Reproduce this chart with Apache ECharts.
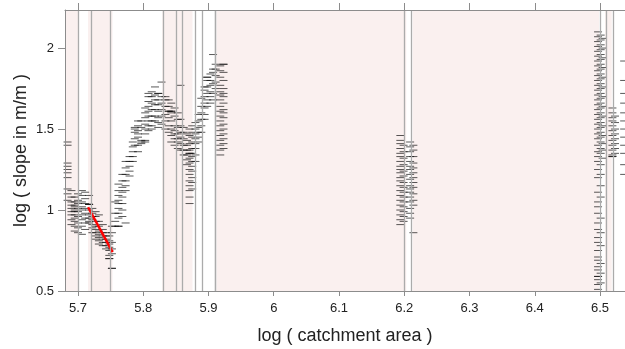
<!DOCTYPE html>
<html>
<head>
<meta charset="utf-8">
<script src="https://cdn.jsdelivr.net/npm/echarts@6/dist/echarts.min.js"></script>
<style>
html,body{margin:0;padding:0;background:#fff;}
#chart{width:625px;height:349px;}
</style>
</head>
<body>
<div id="chart"></div>
<script>
// ---- data ----
const xTicks = [5.7, 5.8, 5.9, 6.0, 6.1, 6.2, 6.3, 6.4, 6.5];
const yTicks = [0.5, 1, 1.5, 2];

// x position of each column of measurements (log catchment area)
const columnX = [
  5.684, 5.690, 5.695, 5.700, 5.706, 5.711,
  5.717, 5.722, 5.727, 5.732, 5.738, 5.743, 5.748, 5.752,
  5.757, 5.762, 5.768, 5.773, 5.779, 5.784, 5.787, 5.792, 5.797,
  5.803, 5.808, 5.813, 5.818, 5.823, 5.828,
  5.834, 5.839, 5.843, 5.848, 5.853, 5.857, 5.862, 5.867, 5.871,
  5.875, 5.880, 5.885, 5.889, 5.894, 5.898, 5.903, 5.907, 5.911,
  5.918, 5.923,
  6.194, 6.199, 6.209, 6.214,
  6.497, 6.501, 6.504,
  6.519, 6.523, 6.537
];
// log slope values per column
const columnY = [
  [1.42, 1.40, 1.29, 1.27, 1.25, 1.23, 1.20, 1.13, 1.10, 1.06],
  [1.12, 1.08, 1.05, 1.03, 1.01, 0.99, 0.97, 0.94, 0.91],
  [1.08, 1.05, 1.03, 1.02, 1.00, 0.99, 0.97, 0.95, 0.93, 0.90, 0.87],
  [1.10, 1.06, 1.04, 1.01, 0.99, 0.96, 0.92, 0.89, 0.86],
  [1.12, 1.09, 1.05, 1.02, 1.00, 0.97, 0.94, 0.90, 0.85],
  [1.11, 1.07, 1.04, 1.01, 0.98, 0.95, 0.92, 0.88],
  [1.09, 1.035, 1.035, 1.035, 1.00, 0.97, 0.95, 0.93, 0.92],
  [1.01, 0.98, 0.96, 0.94, 0.91, 0.89, 0.86],
  [0.99, 0.96, 0.93, 0.90, 0.88, 0.86, 0.84, 0.82],
  [0.97, 0.93, 0.90, 0.87, 0.85, 0.83, 0.81, 0.79],
  [0.91, 0.88, 0.86, 0.84, 0.82, 0.80, 0.78],
  [0.86, 0.84, 0.82, 0.80, 0.78, 0.76],
  [0.84, 0.81, 0.79, 0.77, 0.75, 0.72, 0.70, 0.70],
  [0.90, 0.86, 0.80, 0.76, 0.73, 0.64, 0.64],
  [1.05, 0.98, 0.93, 0.90],
  [1.16, 1.12, 1.09, 1.06, 1.04, 1.01, 0.98, 0.95, 0.90, 0.90],
  [1.22, 1.18, 1.14, 1.11, 1.08, 1.04, 1.00, 0.96],
  [1.30, 1.26, 1.22, 1.18, 1.15, 1.12, 0.92],
  [1.33, 1.30, 1.27, 1.24, 1.21],
  [1.42, 1.39, 1.36, 1.33, 1.30],
  [1.51, 1.50, 1.48, 1.44, 1.40],
  [1.55, 1.52, 1.49, 1.47, 1.45, 1.40, 1.36],
  [1.55, 1.51, 1.43, 1.42, 1.41],
  [1.63, 1.60, 1.57, 1.53, 1.50, 1.47, 1.43, 1.42],
  [1.72, 1.70, 1.67, 1.64, 1.61, 1.58, 1.55, 1.52, 1.49],
  [1.73, 1.70, 1.66, 1.62, 1.58, 1.55, 1.52, 1.50],
  [1.76, 1.71, 1.68, 1.65, 1.62, 1.58, 1.55],
  [1.72, 1.72, 1.68, 1.65, 1.61, 1.57, 1.54, 1.51],
  [1.79, 1.70, 1.66, 1.62, 1.58, 1.53],
  [1.70, 1.68, 1.64, 1.59, 1.55, 1.50],
  [1.68, 1.64, 1.61, 1.61, 1.57, 1.52, 1.48],
  [1.66, 1.61, 1.61, 1.60, 1.55, 1.50, 1.46, 1.42],
  [1.63, 1.58, 1.52, 1.49, 1.47, 1.44, 1.40],
  [1.60, 1.56, 1.51, 1.47, 1.44, 1.42, 1.38],
  [1.77, 1.56, 1.52, 1.48, 1.45, 1.41, 1.37],
  [1.51, 1.48, 1.44, 1.40, 1.37, 1.34],
  [1.47, 1.43, 1.40, 1.37, 1.34, 1.31, 1.28],
  [1.50, 1.46, 1.41, 1.37, 1.35, 1.35, 1.32, 1.29, 1.25, 1.22, 1.18, 1.15, 1.12, 1.08, 1.04],
  [1.52, 1.48, 1.45, 1.42, 1.38, 1.35, 1.33, 1.30, 1.27, 1.24, 1.20, 1.17, 1.13],
  [1.54, 1.50, 1.47, 1.44, 1.41, 1.38, 1.34, 1.30],
  [1.59, 1.55, 1.51, 1.48, 1.45, 1.42],
  [1.69, 1.64, 1.60, 1.56, 1.52, 1.48],
  [1.76, 1.74, 1.70, 1.66, 1.63, 1.59, 1.56],
  [1.82, 1.82, 1.80, 1.76, 1.72, 1.68, 1.64],
  [1.84, 1.80, 1.77, 1.73, 1.70, 1.66],
  [1.96, 1.87, 1.85, 1.78, 1.72, 1.68],
  [1.90, 1.87, 1.83, 1.79, 1.75],
  [1.89, 1.86, 1.82, 1.77, 1.73, 1.71, 1.68, 1.64, 1.61, 1.58, 1.55, 1.52, 1.49, 1.46, 1.43, 1.40, 1.37, 1.34],
  [1.90, 1.90, 1.85, 1.80, 1.75, 1.72, 1.70, 1.66, 1.62, 1.60, 1.57, 1.53, 1.50, 1.47, 1.44, 1.41, 1.38],
  [1.46, 1.43, 1.41, 1.38, 1.35, 1.33, 1.30, 1.27, 1.25, 1.23, 1.20, 1.18, 1.15, 1.12, 1.09, 1.06, 1.03, 1.00, 0.97, 0.94, 0.91],
  [1.40, 1.36, 1.32, 1.28, 1.24, 1.21, 1.17, 1.14, 1.11, 1.08, 1.05, 1.02, 0.99, 0.96, 0.93],
  [1.42, 1.39, 1.36, 1.33, 1.30, 1.27, 1.25, 1.22, 1.19, 1.15, 1.13, 1.11, 1.08, 1.05, 1.01, 0.98, 0.95],
  [1.40, 1.37, 1.33, 1.29, 1.26, 1.23, 1.20, 1.17, 1.14, 1.10, 1.06, 1.03, 0.86],
  [2.10, 2.07, 2.04, 2.01, 1.98, 1.95, 1.92, 1.89, 1.86, 1.83, 1.80, 1.77, 1.74, 1.71, 1.68, 1.65, 1.62, 1.59, 1.56, 1.53, 1.50, 1.47, 1.44, 1.40, 1.36, 1.33, 1.30, 1.25, 1.20, 1.11, 1.05, 1.02, 0.98, 0.92, 0.88, 0.83, 0.80, 0.75, 0.71, 0.69, 0.65, 0.63, 0.59, 0.59, 0.57, 0.54, 0.51],
  [2.08, 2.05, 2.02, 1.99, 1.96, 1.93, 1.90, 1.87, 1.84, 1.81, 1.78, 1.75, 1.72, 1.69, 1.66, 1.63, 1.60, 1.57, 1.54, 1.51, 1.48, 1.45, 1.42, 1.38, 1.35, 1.28, 1.22, 1.15, 1.08, 0.95, 0.86, 0.78, 0.67, 0.61, 0.55],
  [2.06, 2.00, 1.94, 1.88, 1.82, 1.76, 1.70, 1.64, 1.58, 1.52, 1.46, 1.41, 1.37, 1.32],
  [1.63, 1.60, 1.57, 1.55, 1.52, 1.49, 1.46, 1.43, 1.40, 1.37, 1.34, 1.33, 1.33],
  [1.58, 1.54, 1.50, 1.47, 1.44, 1.41, 1.38, 1.35],
  [1.92, 1.80, 1.72, 1.66, 1.60, 1.55, 1.50, 1.45, 1.40, 1.35, 1.28, 1.22]
];

// fitted trend segment
const fitX = [5.7155, 5.753];
const fitY = [1.017, 0.74];

// shaded reach bands and reach boundaries
const bandStart = [5.680, 5.7153, 5.829, 5.9126, 6.213, 6.5077];
const bandEnd   = [5.7008, 5.7529, 5.8755, 6.2031, 6.4985, 6.518];
const boundaryX = [5.7008, 5.7153, 5.7529, 5.829, 5.851, 5.8598, 5.8755, 5.8936, 5.909, 5.9126, 6.2031, 6.213, 6.4985, 6.5077, 6.518];

// ---- build ----
const points = [];
columnX.forEach((x, i) => columnY[i].forEach(y => points.push([x, y])));

const chart = echarts.init(document.getElementById('chart'), null, {renderer: 'canvas'});
const font = 'Liberation Sans, Arial, sans-serif';
const axisColor = '#8c8c8c';

chart.setOption({
  animation: false,
  backgroundColor: '#fff',
  grid: {left: 65, right: 0, top: 10, bottom: 58, containLabel: false, outerBoundsMode: 'none'},
  xAxis: [{
    type: 'value', min: 5.6801, max: 6.5383, position: 'bottom', z: 5,
    name: 'log ( catchment area )', nameLocation: 'middle', nameGap: 36,
    nameTextStyle: {fontFamily: font, fontSize: 18, color: '#222'},
    axisLine: {show: true, lineStyle: {color: axisColor, width: 1}},
    axisTick: {show: true, length: 5, customValues: xTicks, lineStyle: {color: axisColor}},
    axisLabel: {customValues: xTicks, margin: 11, fontFamily: font, fontSize: 13, color: '#222',
      formatter: v => String(Number(v.toFixed(1)))},
    splitLine: {show: false}
  }, {
    type: 'value', min: 5.6801, max: 6.5383, position: 'top', z: 5,
    axisLine: {show: true, lineStyle: {color: axisColor, width: 1}},
    axisTick: {show: true, length: 7, customValues: xTicks, lineStyle: {color: axisColor}},
    axisLabel: {show: false},
    splitLine: {show: false}
  }],
  yAxis: {
    type: 'value', min: 0.5, max: 2.235, z: 5,
    name: 'log ( slope in m/m )', nameLocation: 'middle', nameGap: 35, nameMoveOverlap: false,
    nameTextStyle: {fontFamily: font, fontSize: 18, color: '#222'},
    axisLine: {show: true, lineStyle: {color: axisColor, width: 1}},
    axisTick: {show: true, length: 7, customValues: yTicks, lineStyle: {color: axisColor}},
    axisLabel: {customValues: yTicks, margin: 11, fontFamily: font, fontSize: 13, color: '#222',
      formatter: v => String(v)},
    splitLine: {show: false}
  },
  series: [{
    type: 'line', data: [], z: 1, silent: true,
    markArea: {
      silent: true,
      itemStyle: {color: '#faf0ef'},
      data: bandStart.map((s, i) => [{xAxis: s}, {xAxis: bandEnd[i]}])
    },
    markLine: {
      silent: true, symbol: 'none', label: {show: false},
      lineStyle: {color: '#ababab', width: 1.3, type: 'solid'},
      data: boundaryX.map(x => ({xAxis: x}))
    }
  }, {
    type: 'scatter', z: 3, data: points,
    symbol: 'rect', symbolSize: [8, 1],
    itemStyle: {color: 'rgba(0,0,0,0.82)'}
  }, {
    type: 'line', z: 4, data: fitX.map((x, i) => [x, fitY[i]]),
    showSymbol: false, symbol: 'none',
    lineStyle: {color: '#ff0000', width: 2.5}
  }]
});
</script>
</body>
</html>
